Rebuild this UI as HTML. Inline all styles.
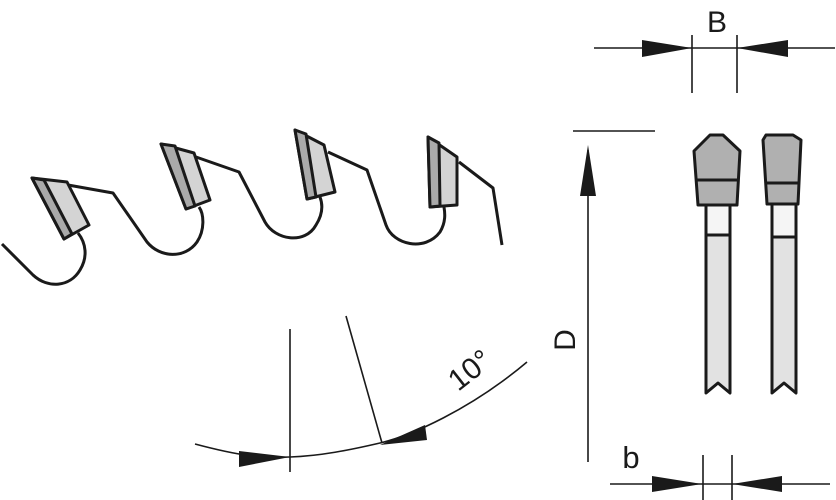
<!DOCTYPE html>
<html><head><style>html,body{margin:0;padding:0;background:#fff}svg{display:block}</style></head>
<body>
<svg width="836" height="500" viewBox="0 0 836 500" xmlns="http://www.w3.org/2000/svg">
<g fill="none" stroke="#1a1a1a" stroke-width="3" stroke-linejoin="round">
<path d="M2,244 L33,275 C48,289 70,287 80,270 C88,257 86,243 78,233"/>
<path d="M68,185 L113,193 L147,242 C160,258 185,259 197,242 C205,230 204,214 199,207"/>
<path d="M196,157 L239,172 L265,222 C275,240 305,245 316,225 C323,214 323,205 320,197"/>
<path d="M328,152 L367,170 L386,225 C393,245 425,252 440,232 C446,222 445,213 444,207"/>
<path d="M459,162 L493,188 L502,245"/>
</g>
<g stroke="#1a1a1a" stroke-width="3" stroke-linejoin="round">
<polygon points="32,178 67,182 89,225 64,239" fill="#d4d4d4"/>
<polygon points="32,178 44,180 72,234 64,239" fill="#aaa"/>
<polygon points="161,144 194,153 210,200 186,209" fill="#d4d4d4"/>
<polygon points="161,144 175,146 195,206 186,209" fill="#aaa"/>
<polygon points="295,130 324,145 335,192 307,199" fill="#d4d4d4"/>
<polygon points="295,130 306,134 316,197 307,199" fill="#aaa"/>
<polygon points="428,137 457,157 457,205 430,207" fill="#d4d4d4"/>
<polygon points="428,137 439,143 440,206 430,207" fill="#aaa"/>
</g>
<g stroke="#1a1a1a" stroke-width="3" stroke-linejoin="round">
<rect x="706" y="205" width="24" height="30" fill="#f5f5f5"/>
<path d="M706,235 L706,393 L718,383 L730,393 L730,235 Z" fill="#e2e2e2"/>
<polygon points="710,135 723,135 740,151 737,205 698,205 694,151" fill="#b0b0b0"/>
<line x1="696" y1="180" x2="738" y2="180"/>
<rect x="772" y="204" width="24" height="33" fill="#f5f5f5"/>
<path d="M772,237 L772,393 L784,383 L796,393 L796,237 Z" fill="#e2e2e2"/>
<polygon points="766,135 793,135 801,140 798,204 767,204 763,140" fill="#b0b0b0"/>
<line x1="765" y1="183" x2="799" y2="183"/>
</g>
<g stroke="#1a1a1a" stroke-width="1.6" fill="none">
<line x1="594" y1="48" x2="835" y2="48"/>
<line x1="692" y1="35" x2="692" y2="93"/>
<line x1="737" y1="35" x2="737" y2="93"/>
<line x1="573" y1="131" x2="655" y2="131"/>
<line x1="588" y1="150" x2="588" y2="462"/>
<line x1="610" y1="484" x2="830" y2="484"/>
<line x1="703" y1="455" x2="703" y2="500"/>
<line x1="732" y1="455" x2="732" y2="500"/>
<line x1="290" y1="329" x2="290" y2="472"/>
<line x1="346" y1="316" x2="382" y2="443"/>
<path d="M195,444 C240,456 260,458 290,457 S350,450 380,443 S470,410 527,362"/>
</g>
<g fill="#1a1a1a">
<polygon points="642,40 692,48 642,57"/>
<polygon points="788,40 737,48 788,57"/>
<polygon points="588,145 580,196 596,196"/>
<polygon points="652,476 702,484 652,492"/>
<polygon points="782,476 732,484 782,492"/>
<polygon points="239,451 290,457 239,467"/>
<polygon points="380,445 425,425 427,440"/>
</g>
<g font-family="Liberation Sans, sans-serif" fill="#1a1a1a">
<text x="717" y="32" font-size="30" text-anchor="middle">B</text>
<text x="0" y="0" font-size="30" text-anchor="middle" transform="translate(575,340) rotate(-90)">D</text>
<text x="631" y="468" font-size="31" text-anchor="middle">b</text>
<text x="0" y="0" font-size="30" text-anchor="middle" transform="translate(476,378) rotate(-38)">10°</text>
</g>
</svg>
</body></html>
